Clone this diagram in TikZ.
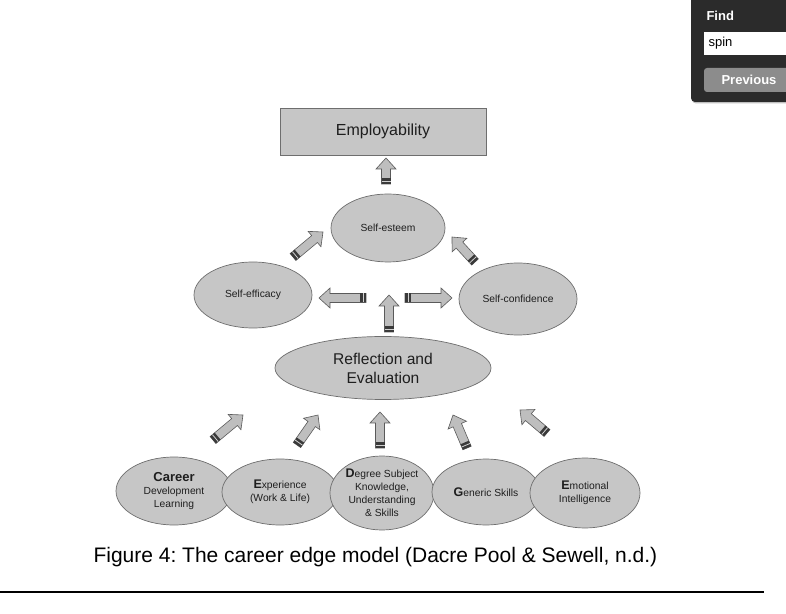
\documentclass[tikz,border=0pt]{standalone}
\usepackage{fontspec}
\setmainfont{Liberation Sans}
\usetikzlibrary{shapes.geometric,calc}

\tikzset{
  pics/fatarr/.style={code={
    \fill[arrFill, draw=arrLine, line width=0.6pt]
      (0,-4.5) -- ({#1-11},-4.5) -- ({#1-11},-10) -- (#1,0)
      -- ({#1-11},10) -- ({#1-11},4.5) -- (0,4.5) -- cycle;
    \fill[arrDark] (0,-4.5) rectangle (6,4.5);
    \draw[arrFill!70!white, line width=0.8pt] (3,-4.5) -- (3,4.5);
  }},
  bolla/.style={ellipse, fill=boxGray, draw=lineGray, line width=0.7pt,
    inner sep=0pt, align=center, text=txtDark, font=\fontsize{10.3}{13}\selectfont},
}

\newcommand{\fatarrow}[2]{%
  \path let \p1=($(#2)-(#1)$), \n1={atan2(\y1,\x1)}, \n2={veclen(\x1,\y1)}
    in pic[rotate=\n1] at (#1) {fatarr=\n2};}

\begin{document}
\begin{tikzpicture}[x=1pt, y=1pt]

% Colori
\definecolor{boxGray}{HTML}{C6C6C6}
\definecolor{lineGray}{HTML}{6E6E6E}
\definecolor{arrFill}{HTML}{BEBEBE}
\definecolor{arrLine}{HTML}{5A5A5A}
\definecolor{arrDark}{HTML}{3A3A3A}
\definecolor{txtDark}{HTML}{1E1E1E}
\definecolor{panel}{HTML}{2B2B2B}
\definecolor{btnGray}{HTML}{8C8C8C}

\useasboundingbox (0,0) rectangle (786,613);

% Pannello "Find"
\fill[black!25, rounded corners=4pt] (692,640) -- (692,509.5) -- (790,509.5) -- (790,640) -- cycle;
\fill[panel, rounded corners=4pt] (691,640) -- (691,511) -- (790,511) -- (790,640) -- cycle;
\node[anchor=west, text=white, font=\fontsize{13}{15}\bfseries\selectfont] (find) at (703,597) {Find};
\fill[white] (704,558) rectangle (787,581);
\node[anchor=west, text=black, font=\fontsize{13}{15}\selectfont] (spin) at (705,570) {spin};
\fill[btnGray, rounded corners=3pt] (704,521) rectangle (795,545);
\node[text=white, font=\fontsize{13}{15}\bfseries\selectfont] (prev) at (749,533) {Previous};

% Rettangolo in alto
\node[rectangle, fill=boxGray, draw=lineGray, line width=0.8pt, minimum width=206, minimum height=47,
  text=txtDark, font=\fontsize{16}{18}\selectfont] (employ) at (383,481.5) {Employability};

% Triangolo centrale
\node[bolla, minimum width=114, minimum height=68] (esteem) at (388,385) {Self-esteem};
\node[bolla, minimum width=118, minimum height=66] (efficacy) at (253,318) {Self-efficacy};
\node[bolla, minimum width=118, minimum height=72] (confid) at (518,314) {Self-confidence};
\node[bolla, minimum width=216, minimum height=63, font=\fontsize{15.6}{19}\selectfont] (reflect) at (383,245) {Reflection and\\Evaluation};

% Ellissi in basso
\node[bolla, minimum width=116, minimum height=68] (career) at (174,122)
  {{\fontsize{13}{14}\bfseries\selectfont Career}\\Development\\Learning};
\node[bolla, minimum width=116, minimum height=66] (exper) at (280,121)
  {{\fontsize{12.5}{13}\bfseries\selectfont E}xperience\\(Work \& Life)};
\node[bolla, minimum width=104, minimum height=74] (degree) at (382,120)
  {{\fontsize{12.5}{13}\bfseries\selectfont D}egree Subject\\Knowledge,\\Understanding\\\& Skills};
\node[bolla, minimum width=108, minimum height=66] (generic) at (486,121)
  {{\fontsize{12.5}{13}\bfseries\selectfont G}eneric Skills};
\node[bolla, minimum width=110, minimum height=70] (emotion) at (585,120)
  {{\fontsize{12.5}{13}\bfseries\selectfont E}motional\\Intelligence};

% Punti delle frecce
\coordinate (topT) at (386,429);  \coordinate (topH) at (386,455);
\coordinate (effT) at (293,356);  \coordinate (effH) at (323,381);
\coordinate (conT) at (475,351);  \coordinate (conH) at (452,376);
\coordinate (lefT) at (366,315);  \coordinate (lefH) at (319,315);
\coordinate (rigT) at (405,315);  \coordinate (rigH) at (452,315);
\coordinate (midT) at (389,281);  \coordinate (midH) at (389,318);
\coordinate (b1T) at (213,173);   \coordinate (b1H) at (243,198);
\coordinate (b2T) at (297,168);   \coordinate (b2H) at (318,198);
\coordinate (b3T) at (380,165);   \coordinate (b3H) at (380,201);
\coordinate (b4T) at (467,165);   \coordinate (b4H) at (453,198);
\coordinate (b5T) at (547,180);   \coordinate (b5H) at (520,203);

% Frecce
\foreach \a in {top,eff,con,lef,rig,mid,b1,b2,b3,b4,b5}
  \fatarrow{\a T}{\a H};

% Didascalia
\node[anchor=west, text=black, font=\fontsize{21}{24}\selectfont] (caption) at (90,56)
  {Figure 4:\ The career edge model (Dacre Pool \& Sewell, n.d.)};
\coordinate (lineL) at (0,21);
\coordinate (lineR) at (764,21);
\draw[black, line width=1.3pt] (lineL) -- (lineR);
\end{tikzpicture}
\end{document}
